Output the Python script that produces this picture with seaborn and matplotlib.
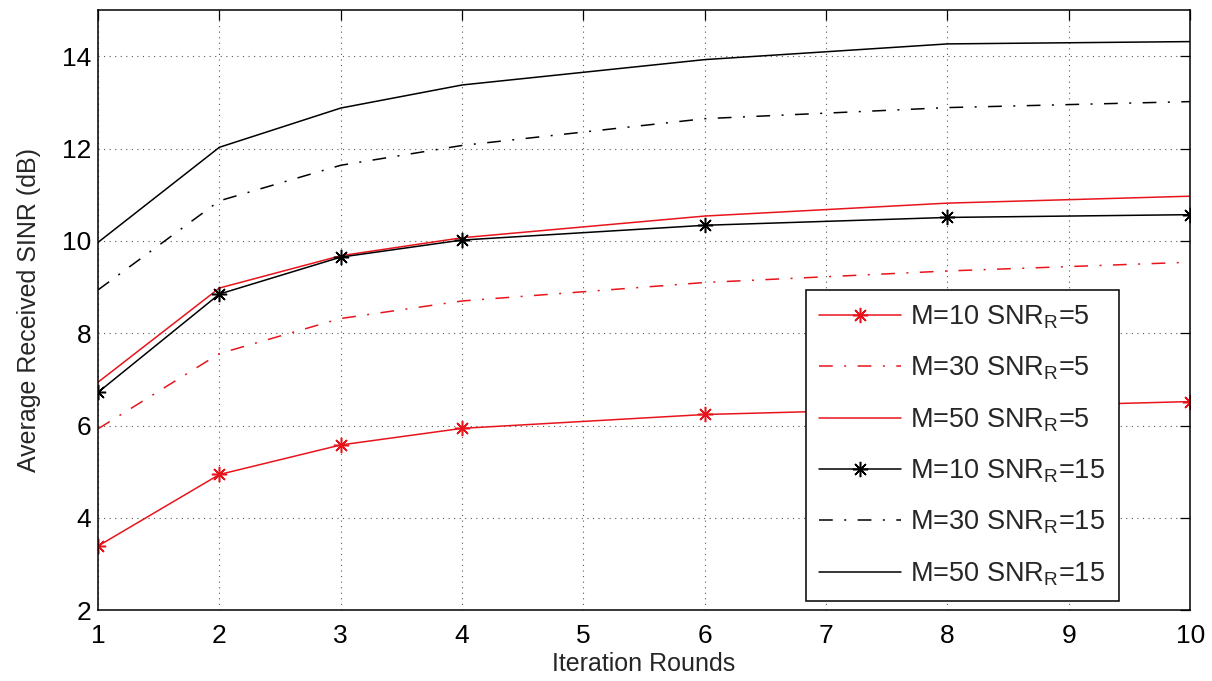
import numpy as np
import pandas as pd
import matplotlib
matplotlib.use("Agg")
import matplotlib.pyplot as plt
import seaborn as sns

# Iteration rounds at which the average SINR was evaluated
rounds = [1, 2, 3, 4, 6, 8, 10]

# Average received SINR (dB) for each (M, SNR_R) configuration
m10_snr5 = [3.39, 4.94, 5.58, 5.94, 6.24, 6.38, 6.52]
m30_snr5 = [5.93, 7.56, 8.32, 8.70, 9.10, 9.35, 9.54]
m50_snr5 = [6.94, 8.98, 9.68, 10.07, 10.54, 10.82, 10.97]
m10_snr15 = [6.72, 8.85, 9.65, 10.02, 10.34, 10.51, 10.57]
m30_snr15 = [8.94, 10.87, 11.64, 12.07, 12.65, 12.89, 13.02]
m50_snr15 = [9.97, 12.03, 12.88, 13.38, 13.93, 14.27, 14.32]

series_labels = [
    "M=10 SNR$_\\mathregular{R}$=5",
    "M=30 SNR$_\\mathregular{R}$=5",
    "M=50 SNR$_\\mathregular{R}$=5",
    "M=10 SNR$_\\mathregular{R}$=15",
    "M=30 SNR$_\\mathregular{R}$=15",
    "M=50 SNR$_\\mathregular{R}$=15",
]
series_values = [m10_snr5, m30_snr5, m50_snr5, m10_snr15, m30_snr15, m50_snr15]

x_ticks = [1, 2, 3, 4, 5, 6, 7, 8, 9, 10]
y_ticks = [2, 4, 6, 8, 10, 12, 14]

df = pd.concat(
    [pd.DataFrame({"round": rounds, "sinr": v, "series": lab})
     for lab, v in zip(series_labels, series_values)],
    ignore_index=True,
)

sns.set_theme(style="white")
plt.rcParams["font.family"] = ["Liberation Sans", "DejaVu Sans"]
plt.rcParams["mathtext.fontset"] = "custom"
plt.rcParams["mathtext.rm"] = "Liberation Sans"

asterisk = (8, 2, 0)
dashdot = (0, (9, 7.5, 1.3, 7.5))
styles = [
    dict(color="#e8141c", linestyle="-", marker=asterisk),
    dict(color="#e8141c", linestyle=dashdot, marker=None),
    dict(color="#e8141c", linestyle="-", marker=None),
    dict(color="black", linestyle="-", marker=asterisk),
    dict(color="black", linestyle=dashdot, marker=None),
    dict(color="black", linestyle="-", marker=None),
]

fig = plt.figure(figsize=(12.12, 6.81), dpi=100)
ax = fig.add_axes([0.0809, 0.104, 0.9011, 0.881])

for lab, st in zip(series_labels, styles):
    sub = df[df["series"] == lab]
    sns.lineplot(
        data=sub, x="round", y="sinr", ax=ax, label=lab,
        color=st["color"], linestyle=st["linestyle"], marker=st["marker"],
        markersize=11, markeredgewidth=1.1, markeredgecolor=st["color"],
        linewidth=1.1, estimator=None, sort=False,
    )

ax.set_xlim(1, 10)
ax.set_ylim(2, 15)
ax.set_xticks(x_ticks)
ax.set_yticks(y_ticks)
ax.grid(True, linestyle=(0, (1, 4)), color="0.35", linewidth=0.8)
ax.tick_params(direction="in", length=7, width=0.9, top=True, right=True,
               labelsize=19, colors="black")
ax.tick_params(axis="x", pad=10)
ax.tick_params(axis="y", pad=5)
for sp in ax.spines.values():
    sp.set_color("black")
    sp.set_linewidth(1.1)

ax.set_xlabel("Iteration Rounds", fontsize=18, labelpad=3)
ax.set_ylabel("Average Received SINR (dB)", fontsize=18, labelpad=15)

leg = ax.legend(
    loc="lower left", bbox_to_anchor=(0.648, 0.015), borderaxespad=0,
    fontsize=19.5, frameon=True, fancybox=False, shadow=False, framealpha=1,
    edgecolor="black", handlelength=3.0, handletextpad=0.35,
    labelspacing=0.88, borderpad=0.5,
)
leg.get_frame().set_linewidth(1.1)

fig.savefig("out.png", dpi=100, facecolor="white")
